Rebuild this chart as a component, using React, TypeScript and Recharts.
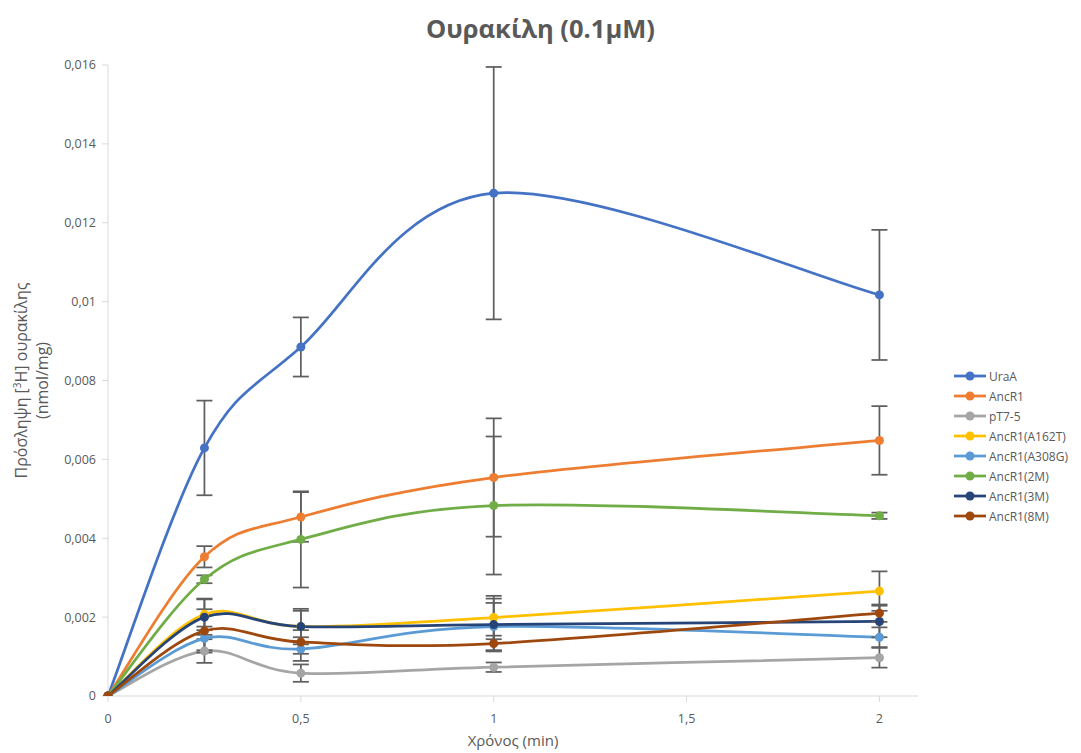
import React from 'react';
import { LineChart, Line, XAxis, YAxis, ErrorBar, Label } from 'recharts';

// ─── Uracil uptake over time ────────────────────────────────────
// Smoothed lines with markers and ±error bars, Excel-like styling.

const TIMES = [0, 0.25, 0.5, 1, 2];
const X_TICKS = [0, 0.5, 1, 1.5, 2];
const Y_TICKS = [0, 0.002, 0.004, 0.006, 0.008, 0.01, 0.012, 0.014, 0.016];

const URAA = [0, 0.00629, 0.00885, 0.01275, 0.01017];
const URAA_ERR = [0, 0.0012, 0.00075, 0.0032, 0.00165];
const ANCR1 = [0, 0.00353, 0.00454, 0.00554, 0.00648];
const ANCR1_ERR = [0, 0.00027, 0.00063, 0.0015, 0.00087];
const PT75 = [0, 0.00114, 0.00058, 0.00073, 0.00097];
const PT75_ERR = [0, 0.0003, 0.00022, 0.00012, 0.00025];
const A162T = [0, 0.00207, 0.00176, 0.00199, 0.00266];
const A162T_ERR = [0, 0.0004, 0.0004, 0.00055, 0.0005];
const A308G = [0, 0.00146, 0.00119, 0.00176, 0.00149];
const A308G_ERR = [0, 0.0003, 0.0003, 0.0006, 0.00025];
const M2 = [0, 0.00296, 0.00397, 0.00483, 0.00457];
const M2_ERR = [0, 0.0001, 0.00122, 0.00175, 0.00008];
const M3 = [0, 0.002, 0.00176, 0.00181, 0.00189];
const M3_ERR = [0, 0.00045, 0.00045, 0.00066, 0.0004];
const M8 = [0, 0.00165, 0.00137, 0.00133, 0.0021];
const M8_ERR = [0, 0.00055, 0.0003, 0.0002, 0.00022];

const SERIES = [
  { key: 'uraA', name: 'UraA', color: '#4472C4', values: URAA, err: URAA_ERR },
  { key: 'ancR1', name: 'AncR1', color: '#ED7D31', values: ANCR1, err: ANCR1_ERR },
  { key: 'pT75', name: 'pT7-5', color: '#A5A5A5', values: PT75, err: PT75_ERR },
  { key: 'a162t', name: 'AncR1(A162T)', color: '#FFC000', values: A162T, err: A162T_ERR },
  { key: 'a308g', name: 'AncR1(A308G)', color: '#5B9BD5', values: A308G, err: A308G_ERR },
  { key: 'm2', name: 'AncR1(2M)', color: '#70AD47', values: M2, err: M2_ERR },
  { key: 'm3', name: 'AncR1(3M)', color: '#264478', values: M3, err: M3_ERR },
  { key: 'm8', name: 'AncR1(8M)', color: '#9E480E', values: M8, err: M8_ERR },
];

const data = TIMES.map((t, i) => {
  const row: Record<string, number> = { t };
  SERIES.forEach((s) => {
    row[s.key] = s.values[i];
    row[s.key + 'Err'] = s.err[i];
  });
  return row;
});

const FONT = '"Open Sans", "Liberation Sans", Arial, sans-serif';
const TEXT = '#595959';
const AXIS = '#D9D9D9';

// Catmull-Rom style bezier, close to Excel's "smoothed line"
const smoothCurve = (context: any) => {
  let pts: number[][] = [];
  return {
    areaStart() {},
    areaEnd() {},
    lineStart() {
      pts = [];
    },
    point(x: number, y: number) {
      pts.push([+x, +y]);
    },
    lineEnd() {
      if (!pts.length) return;
      context.moveTo(pts[0][0], pts[0][1]);
      const k = 1 / 6;
      for (let i = 0; i < pts.length - 1; i++) {
        const p0 = pts[Math.max(i - 1, 0)];
        const p1 = pts[i];
        const p2 = pts[i + 1];
        const p3 = pts[Math.min(i + 2, pts.length - 1)];
        context.bezierCurveTo(
          p1[0] + (p2[0] - p0[0]) * k,
          p1[1] + (p2[1] - p0[1]) * k,
          p2[0] - (p3[0] - p1[0]) * k,
          p2[1] - (p3[1] - p1[1]) * k,
          p2[0],
          p2[1]
        );
      }
    },
  };
};

const fmt = (v: number) => String(v).replace('.', ',');

const YTitle = ({ viewBox }: any) => {
  const cy = viewBox.y + viewBox.height / 2;
  return (
    <text
      transform={`translate(27, ${cy}) rotate(-90)`}
      textAnchor="middle"
      fill={TEXT}
      fontSize={16}
      fontFamily={FONT}
    >
      <tspan x={0} dy={0}>
        Πρόσληψη [
        <tspan fontSize={10} dy={-6}>3</tspan>
        <tspan dy={6}>H] ουρακίλης</tspan>
      </tspan>
      <tspan x={0} dy={21}>(nmol/mg)</tspan>
    </text>
  );
};

export default function App() {
  return (
    <div style={{ position: 'absolute', left: 0, top: 0, width: 1081, height: 753, background: '#fff', fontFamily: FONT }}>
      <div
        style={{
          position: 'absolute',
          top: 10,
          left: 0,
          width: 1081,
          textAlign: 'center',
          fontSize: 25.5,
          lineHeight: '36px',
          fontWeight: 700,
          color: TEXT,
        }}
      >
        Ουρακίλη (0.1μM)
      </div>

      <LineChart width={1081} height={753} data={data} margin={{ top: 65, right: 163, bottom: 0, left: 0 }}>
        <XAxis
          dataKey="t"
          type="number"
          domain={[0, 2.1]}
          ticks={X_TICKS}
          tickFormatter={fmt}
          stroke={AXIS}
          tick={{ fill: TEXT, fontSize: 12.5, fontFamily: FONT }}
          tickSize={6}
          tickMargin={12}
          height={57}
        >
          <Label value="Χρόνος (min)" position="insideBottom" offset={7} fill={TEXT} fontSize={15} fontFamily={FONT} />
        </XAxis>
        <YAxis
          type="number"
          domain={[0, 0.016]}
          ticks={Y_TICKS}
          tickFormatter={fmt}
          stroke={AXIS}
          tick={{ fill: TEXT, fontSize: 12.5, fontFamily: FONT }}
          tickSize={6}
          tickMargin={6}
          width={108}
          allowDataOverflow
        >
          <Label content={<YTitle />} />
        </YAxis>
        {SERIES.map((s) => (
          <Line
            key={s.key}
            dataKey={s.key}
            name={s.name}
            type={smoothCurve as any}
            stroke={s.color}
            strokeWidth={2.75}
            dot={{ r: 4.5, fill: s.color, stroke: s.color, strokeWidth: 0 }}
            activeDot={false}
            isAnimationActive={false}
          >
            <ErrorBar dataKey={s.key + 'Err'} direction="y" width={8} stroke="#5f5f5f" strokeWidth={1.75} />
          </Line>
        ))}
      </LineChart>

      <div style={{ position: 'absolute', left: 953, top: 366, fontSize: 12, color: TEXT }}>
        {SERIES.map((s) => (
          <div key={s.key} style={{ display: 'flex', alignItems: 'center', height: 20 }}>
            <svg width={34} height={12}>
              <line x1={1} y1={6} x2={33} y2={6} stroke={s.color} strokeWidth={2.75} />
              <circle cx={17} cy={6} r={4.5} fill={s.color} />
            </svg>
            <span style={{ marginLeft: 2 }}>{s.name}</span>
          </div>
        ))}
      </div>
    </div>
  );
}
